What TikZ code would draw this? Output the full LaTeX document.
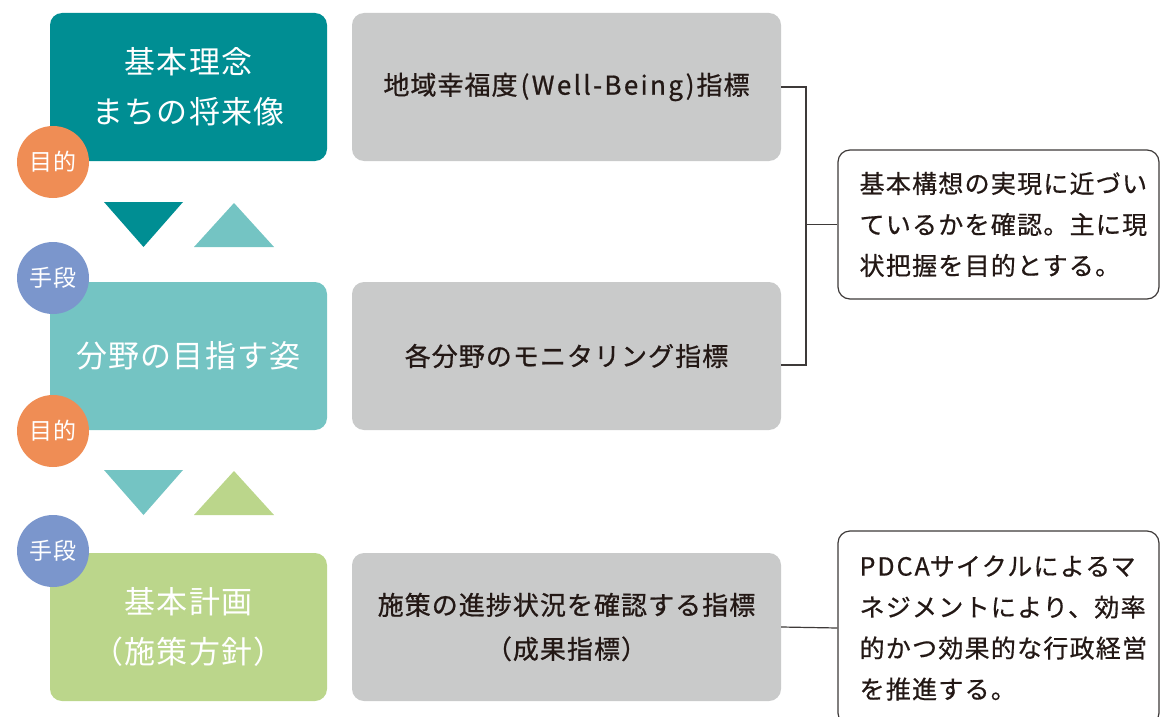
\documentclass[tikz,border=0pt]{standalone}
\usepackage{fontspec}
\setmainfont{Noto Sans CJK JP}
\definecolor{tealdark}{HTML}{008E93}
\definecolor{teallight}{HTML}{74C4C3}
\definecolor{leafgreen}{HTML}{BBD68B}
\definecolor{boxgray}{HTML}{C9CACA}
\definecolor{purposeorange}{HTML}{EF8D55}
\definecolor{meansblue}{HTML}{7B96CC}
\definecolor{inkdark}{HTML}{231815}
\definecolor{linegray}{HTML}{3E3A39}

\begin{document}
\begin{tikzpicture}[x=1pt,y=-1pt,
		mainbox/.style={rounded corners=12pt,minimum width=277pt,minimum height=148pt,inner sep=0pt,align=center,text=white,font=\fontsize{31}{50}\selectfont\addfontfeature{LetterSpace=4}},
		graybox/.style={rounded corners=12pt,fill=boxgray,minimum width=429pt,minimum height=148pt,inner sep=0pt,align=center,text=inkdark,font=\fontsize{26}{44}\selectfont\addfontfeature{LetterSpace=4,FakeBold=0.8}},
		badge/.style={circle,minimum size=72pt,inner sep=0pt,text=white,font=\fontsize{23}{23}\selectfont\addfontfeature{LetterSpace=2}},
		callbox/.style={draw=linegray,line width=1.2pt,rounded corners=12pt,fill=white,minimum width=321pt,inner sep=0pt},
		calltext/.style={align=left,inner sep=0pt,text=inkdark,font=\fontsize{25}{41}\selectfont\addfontfeature{LetterSpace=5,FakeBold=0.6}},
		conn/.style={draw=linegray,line width=1.2pt}]
	\useasboundingbox (0,0) rectangle (1160,717);
	\clip (0,0) rectangle (1160,717);

	\node[mainbox,fill=tealdark] (vision) at (188.5,87) {基本理念\\まちの将来像};
	\node[mainbox,fill=teallight] (field) at (188.5,356) {分野の目指す姿};
	\node[mainbox,fill=leafgreen] (plan) at (188.5,627) {基本計画\\（施策方針）};

	\node[graybox] (g1) at (566.5,87) {地域幸福度\hspace{3pt}{\addfontfeature{LetterSpace=9}(Well-Being)}\hspace{2pt}指標};
	\node[graybox] (g2) at (566.5,356) {各分野のモニタリング指標};
	\node[graybox] (g3) at (566.5,627) {施策の進捗状況を確認する指標\\（成果指標）};

	\node[badge,fill=purposeorange] (p1) at (53,162) {目的};
	\node[badge,fill=meansblue] (m1) at (53,278) {手段};
	\node[badge,fill=purposeorange] (p2) at (53,431) {目的};
	\node[badge,fill=meansblue] (m2) at (53,551) {手段};

	\fill[tealdark] (104,202) -- (183,202) -- (143.5,247) -- cycle;
	\fill[teallight] (194,247) -- (274,247) -- (234,203) -- cycle;
	\fill[teallight] (104,470) -- (183,470) -- (143.5,515) -- cycle;
	\fill[leafgreen] (194,515) -- (274,515) -- (234,471) -- cycle;

	\node[callbox,minimum height=149pt] (c1) at (998.5,224.5) {};
	\node[calltext,anchor=west] (c1t) at ([xshift=22pt]c1.west) {基本構想の実現に近づい\\ているかを確認。主に現\\状把握を目的とする。};
	\node[callbox,minimum height=194pt] (c2) at (998.5,628) {};
	\node[calltext,anchor=west] (c2t) at ([xshift=22pt]c2.west) {{\addfontfeature{LetterSpace=8}PDCA}サイクルによるマ\\ネジメントにより、効率\\的かつ効果的な行政経営\\を推進する。};

	\coordinate (bx) at (806,0);
	\coordinate (b2) at ([yshift=-9pt]g2.east);
	\draw[conn] (g1.east) -| (bx |- b2) -- (b2);
	\draw[conn] (c1.west) -- (c1.west -| bx);
	\draw[conn] (g3.east) -- (c2.west);
\end{tikzpicture}
\end{document}
